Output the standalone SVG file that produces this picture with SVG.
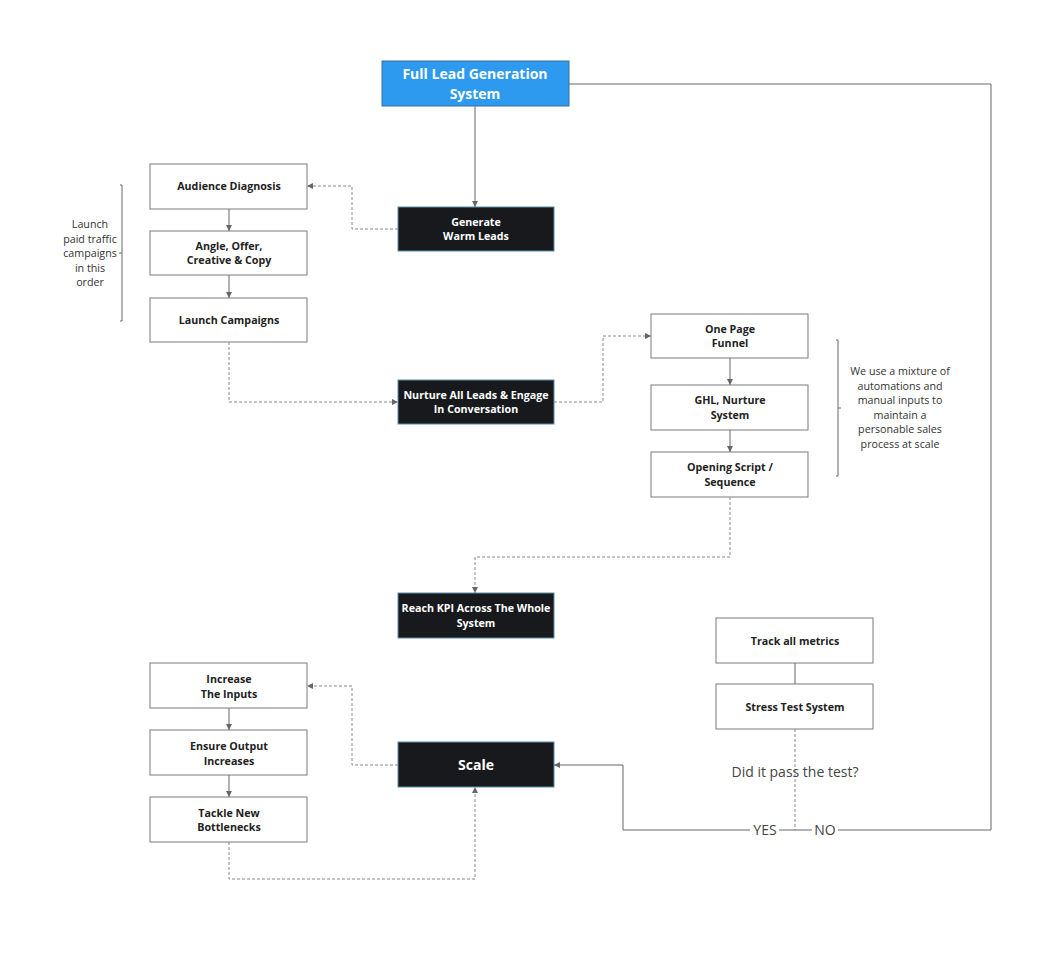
<svg xmlns="http://www.w3.org/2000/svg" width="1042" height="959" viewBox="0 0 1042 959">
<style>
.box{fill:#fff;stroke:#7a7a7a;stroke-width:1}
.dark{fill:#17191c;stroke:#5a8ea6;stroke-width:1}
.blue{fill:#2d9af0;stroke:#3a6f99;stroke-width:1}
.t{font-family:"Open Sans","Liberation Sans",sans-serif;font-size:10.7px;font-weight:700;fill:#222;text-anchor:middle}
.tw{font-family:"Open Sans","Liberation Sans",sans-serif;font-size:10.7px;font-weight:700;fill:#fff;text-anchor:middle}
.note{font-family:"Open Sans","Liberation Sans",sans-serif;font-size:10.7px;fill:#333;text-anchor:middle}
.big{font-family:"Open Sans","Liberation Sans",sans-serif;font-size:14px;fill:#444;text-anchor:middle}
.solid{fill:none;stroke:#666;stroke-width:1}
.dash{fill:none;stroke:#888;stroke-width:1;stroke-dasharray:3 2}
</style>
<defs>
<marker id="ah" viewBox="0 0 6 6" refX="6" refY="3" markerWidth="6" markerHeight="6" markerUnits="userSpaceOnUse" orient="auto">
<path d="M0,0 L6,3 L0,6 z" fill="#666"/>
</marker>
</defs>
<rect width="1042" height="959" fill="#fff"/>

<g id="connectors">
<path class="solid" d="M475,106 V207" marker-end="url(#ah)"/>
<path class="dash" d="M398,229 H352 V186 H307" marker-end="url(#ah)"/>
<path class="solid" d="M229,209 V231" marker-end="url(#ah)"/>
<path class="solid" d="M229,275 V298" marker-end="url(#ah)"/>
<path class="dash" d="M229,342 V402 H398" marker-end="url(#ah)"/>
<path class="dash" d="M554,402 H603 V336 H651" marker-end="url(#ah)"/>
<path class="solid" d="M730,358 V385" marker-end="url(#ah)"/>
<path class="solid" d="M730,430 V452" marker-end="url(#ah)"/>
<path class="dash" d="M730,497 V557 H475 V593" marker-end="url(#ah)"/>
<path class="solid" d="M795,663 V684"/>
<path class="dash" d="M795,729 V830"/>
<path class="solid" d="M750,830 H623 V765 H554" marker-end="url(#ah)"/>
<path class="solid" d="M779,830 H812"/>
<path class="solid" d="M838,830 H991 V84 H569"/>
<path class="dash" d="M398,765 H352 V686 H307" marker-end="url(#ah)"/>
<path class="solid" d="M229,708 V730" marker-end="url(#ah)"/>
<path class="solid" d="M229,775 V797" marker-end="url(#ah)"/>
<path class="dash" d="M229,842 V879 H475 V787" marker-end="url(#ah)"/>
</g>

<g id="bracket-left">
<path class="solid" d="M120,185 H122 V321 H120 M122,253 H119" stroke="#333"/>
<text class="note" x="90" y="228">Launch</text>
<text class="note" x="90" y="243">paid traffic</text>
<text class="note" x="90" y="257">campaigns</text>
<text class="note" x="90" y="272">in this</text>
<text class="note" x="90" y="286">order</text>
</g>

<g id="bracket-right">
<path class="solid" d="M836,340 H838 V476 H836 M838,408 H841" stroke="#333"/>
<text class="note" x="900" y="375">We use a mixture of</text>
<text class="note" x="900" y="390">automations and</text>
<text class="note" x="900" y="404">manual inputs to</text>
<text class="note" x="900" y="419">maintain a</text>
<text class="note" x="900" y="433">personable sales</text>
<text class="note" x="900" y="448">process at scale</text>
</g>

<g id="full-lead">
<rect class="blue" x="382" y="61" width="187" height="45"/>
<text class="tw" style="font-size:14px" x="475" y="79">Full Lead Generation</text>
<text class="tw" style="font-size:14px" x="475" y="99">System</text>
</g>
<g id="generate">
<rect class="dark" x="398" y="207" width="156" height="44"/>
<text class="tw" x="476" y="226">Generate</text>
<text class="tw" x="476" y="240">Warm Leads</text>
</g>
<g id="audience">
<rect class="box" x="150" y="164" width="157" height="45"/>
<text class="t" x="229" y="190">Audience Diagnosis</text>
</g>
<g id="angle">
<rect class="box" x="150" y="231" width="157" height="44"/>
<text class="t" x="229" y="250">Angle, Offer,</text>
<text class="t" x="229" y="264">Creative &amp; Copy</text>
</g>
<g id="launch">
<rect class="box" x="150" y="298" width="157" height="44"/>
<text class="t" x="229" y="324">Launch Campaigns</text>
</g>
<g id="nurture">
<rect class="dark" x="398" y="380" width="156" height="44"/>
<text class="tw" x="476" y="399">Nurture All Leads &amp; Engage</text>
<text class="tw" x="476" y="413">In Conversation</text>
</g>
<g id="funnel">
<rect class="box" x="651" y="314" width="157" height="44"/>
<text class="t" x="730" y="333">One Page</text>
<text class="t" x="730" y="347">Funnel</text>
</g>
<g id="ghl">
<rect class="box" x="651" y="385" width="157" height="45"/>
<text class="t" x="730" y="404">GHL, Nurture</text>
<text class="t" x="730" y="419">System</text>
</g>
<g id="opening">
<rect class="box" x="651" y="452" width="157" height="45"/>
<text class="t" x="730" y="471">Opening Script /</text>
<text class="t" x="730" y="486">Sequence</text>
</g>
<g id="kpi">
<rect class="dark" x="398" y="593" width="156" height="45"/>
<text class="tw" x="476" y="612">Reach KPI Across The Whole</text>
<text class="tw" x="476" y="627">System</text>
</g>
<g id="track">
<rect class="box" x="716" y="618" width="157" height="45"/>
<text class="t" x="795" y="645">Track all metrics</text>
</g>
<g id="stress">
<rect class="box" x="716" y="684" width="157" height="45"/>
<text class="t" x="795" y="711">Stress Test System</text>
</g>
<g id="decision">
<text class="big" x="795" y="777">Did it pass the test?</text>
<text class="big" x="765" y="835">YES</text>
<text class="big" x="825" y="835">NO</text>
</g>
<g id="scale">
<rect class="dark" x="398" y="742" width="156" height="45"/>
<text class="tw" style="font-size:14px" x="476" y="770">Scale</text>
</g>
<g id="increase">
<rect class="box" x="150" y="663" width="157" height="45"/>
<text class="t" x="229" y="683">Increase</text>
<text class="t" x="229" y="698">The Inputs</text>
</g>
<g id="ensure">
<rect class="box" x="150" y="730" width="157" height="45"/>
<text class="t" x="229" y="750">Ensure Output</text>
<text class="t" x="229" y="765">Increases</text>
</g>
<g id="tackle">
<rect class="box" x="150" y="797" width="157" height="45"/>
<text class="t" x="229" y="817">Tackle New</text>
<text class="t" x="229" y="831">Bottlenecks</text>
</g>
</svg>
